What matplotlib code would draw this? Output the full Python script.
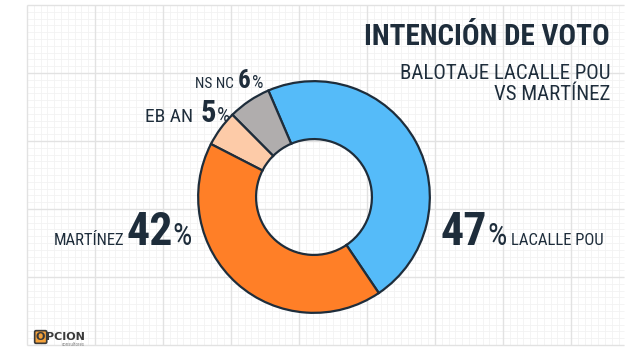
import matplotlib
matplotlib.use('Agg')
import matplotlib.pyplot as plt
from matplotlib import font_manager as fm
import numpy as np

# data
labels = ['LACALLE POU', 'NS NC', 'EB AN', 'MARTÍNEZ']
values = [47, 6, 5, 42]
colors = ['#55BBF9', '#B0ADAD', '#FDCBA8', '#FF7F27']

title = 'INTENCIÓN DE VOTO'
subtitle = ['BALOTAJE LACALLE POU', 'VS MARTÍNEZ']

DARK = '#1E2D3B'

# pick a condensed face if there is one
names = {f.name for f in fm.fontManager.ttflist}
FONT = next((c for c in ['Roboto Condensed', 'Liberation Sans Narrow',
                         'Open Sans Condensed', 'DejaVu Sans Condensed']
             if c in names), 'DejaVu Sans')
plt.rcParams['font.family'] = [FONT, 'DejaVu Sans']

W, H = 640, 359
fig = plt.figure(figsize=(W / 100, H / 100), dpi=100)
fig.patch.set_facecolor('white')

# background axes in pixel coordinates
bg = fig.add_axes([0, 0, 1, 1])
bg.set_xlim(0, W)
bg.set_ylim(H, 0)
bg.axis('off')

# graph-paper grid
x0, x1, y0, y1 = 27, 624, 5, 345
minor = 6.8
xs = np.arange(x0, x1 + 0.1, minor)
ys = np.arange(y0, y1 + 0.1, minor)
bg.vlines(xs, y0, y1, color='#F2F2F2', lw=0.6, zorder=0)
bg.hlines(ys, x0, x1, color='#F2F2F2', lw=0.6, zorder=0)
bg.vlines(xs[::10], y0, y1, color='#E2E2E2', lw=1.0, zorder=0)
bg.hlines(ys[::10], x0, x1, color='#E2E2E2', lw=1.0, zorder=0)

# donut
cx, cy, r = 314, 197, 117
pax = fig.add_axes([(cx - r) / W, (H - cy - r) / H, 2 * r / W, 2 * r / H])
pax.pie(values, colors=colors, startangle=-56, counterclock=True,
        radius=1.0, wedgeprops=dict(width=0.5, edgecolor=DARK, linewidth=1.6))
pax.set_xlim(-1.01, 1.01)
pax.set_ylim(-1.01, 1.01)
pax.set_aspect('equal')
pax.axis('off')

fig.canvas.draw()
renderer = fig.canvas.get_renderer()


def chain(x, y, parts, align='left'):
    # parts: (text, size, weight, gap after)
    seq = parts if align == 'left' else parts[::-1]
    for s, size, weight, gap in seq:
        t = bg.text(x, y, s, ha=align, va='baseline', fontsize=size,
                    fontweight=weight, color=DARK)
        bb = t.get_window_extent(renderer)
        if align == 'left':
            x = bb.x1 + gap
        else:
            x = bb.x0 - gap


# title block
bg.text(610, 45, title, ha='right', va='baseline', fontsize=21,
        fontweight='bold', color=DARK)
bg.text(610, 79, subtitle[0], ha='right', va='baseline', fontsize=15, color=DARK)
bg.text(610, 100, subtitle[1], ha='right', va='baseline', fontsize=15, color=DARK)

# slice labels
chain(440, 245, [(f'{values[0]}', 33, 'bold', 1), ('%', 22, 'normal', 4),
                 (labels[0], 12, 'normal', 0)])
chain(192, 245, [(labels[3], 12, 'normal', 1), (f'{values[3]}', 33, 'bold', 2),
                 ('%', 22, 'normal', 0)], align='right')
chain(145, 122, [(labels[2], 14, 'normal', 7), (f'{values[2]}', 22, 'bold', 1),
                 ('%', 15, 'normal', 0)])
chain(195, 88, [(labels[1], 11, 'normal', 4), (f'{values[1]}', 18, 'bold', 1),
                ('%', 13, 'normal', 0)])

# logo
bg.text(36, 340, 'O', ha='left', va='baseline', fontsize=8, fontweight='bold',
        color='#3A3A3A', family='DejaVu Sans',
        bbox=dict(boxstyle='round,pad=0.12', fc='#F5A23A', ec='#3A3A3A', lw=1.2))
bg.text(46, 340, 'PCION', ha='left', va='baseline', fontsize=8,
        fontweight='bold', color='#3A3A3A', family='DejaVu Sans')
bg.text(85, 346, 'consultores', ha='right', va='baseline', fontsize=3.5,
        color='#888888')

fig.savefig('out.png', dpi=100)
